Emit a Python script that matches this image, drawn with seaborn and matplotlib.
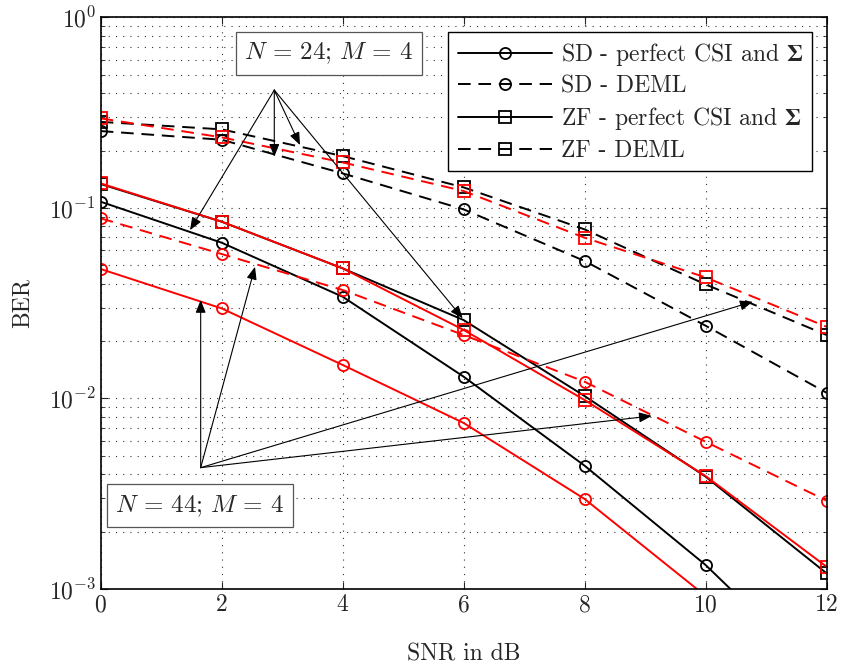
import numpy as np
import pandas as pd
import matplotlib
matplotlib.use("Agg")
import matplotlib.pyplot as plt
from matplotlib.lines import Line2D
import matplotlib.ticker as mticker
import seaborn as sns

# ---------------- data ----------------
snr = [0, 2, 4, 6, 8, 10, 12]

# N = 24, M = 4 (black)
sd_perfect_24 = [0.1078, 0.0657, 0.0342, 0.01302, 0.00444, 0.001338, 0.000326]
sd_deml_24    = [0.2532, 0.228, 0.1519, 0.0983, 0.0527, 0.0241, 0.01072]
zf_perfect_24 = [0.1335, 0.0847, 0.0482, 0.0258, 0.0103, 0.00389, 0.00121]
zf_deml_24    = [0.283, 0.2585, 0.1872, 0.1282, 0.0772, 0.0397, 0.02154]

# N = 44, M = 4 (red)
sd_perfect_44 = [0.0478, 0.0297, 0.0150, 0.00744, 0.00297, 0.00092, 0.00025]
sd_deml_44    = [0.0882, 0.0573, 0.0371, 0.02154, 0.01225, 0.00593, 0.00291]
zf_perfect_44 = [0.1345, 0.0847, 0.0482, 0.0229, 0.00982, 0.00392, 0.00131]
zf_deml_44    = [0.2952, 0.2347, 0.1734, 0.1227, 0.0698, 0.0432, 0.0238]

legend_labels = [r"SD - perfect CSI and $\mathbf{Σ}$",
                 "SD - DEML",
                 r"ZF - perfect CSI and $\mathbf{Σ}$",
                 "ZF - DEML"]
box24_text = r"$N\,=\,24;\,M\,=\,4$"
box44_text = r"$N\,=\,44;\,M\,=\,4$"

# ---------------- style ----------------
sns.set_style("ticks")
plt.rcParams["font.family"] = ["cmr10", "DejaVu Serif"]
plt.rcParams["mathtext.fontset"] = "cm"
plt.rcParams["axes.formatter.use_mathtext"] = True
plt.rcParams["axes.unicode_minus"] = True

FS = 17

fig = plt.figure(figsize=(8.42, 6.67), dpi=100)
ax = fig.add_axes([0.1196, 0.1169, 0.862, 0.857])

DASH = (0, (6.5, 4.0))
LW = 1.4
MS = 8
MEW = 1.3

series = [
    (sd_perfect_24, "k", "o", "-"),
    (sd_deml_24, "k", "o", DASH),
    (zf_perfect_24, "k", "s", "-"),
    (zf_deml_24, "k", "s", DASH),
    (sd_perfect_44, "red", "o", "-"),
    (sd_deml_44, "red", "o", DASH),
    (zf_perfect_44, "red", "s", "-"),
    (zf_deml_44, "red", "s", DASH),
]
for vals, col, mk, ls in series:
    df = pd.DataFrame({"SNR": snr, "BER": vals})
    sns.lineplot(data=df, x="SNR", y="BER", ax=ax, color=col, marker=mk,
                 linestyle=ls, linewidth=LW, markersize=MS,
                 markerfacecolor="none", markeredgecolor=col,
                 markeredgewidth=MEW, clip_on=True)

ax.set_yscale("log")
ax.set_xlim(0, 12)
ax.set_ylim(1e-3, 1)
ax.set_xticks([0, 2, 4, 6, 8, 10, 12])
ax.yaxis.set_major_locator(mticker.LogLocator(base=10, numticks=10))
ax.yaxis.set_minor_locator(mticker.LogLocator(base=10, subs=np.arange(2, 10), numticks=20))
ax.yaxis.set_minor_formatter(mticker.NullFormatter())

grid_kw = dict(color="#333333", linestyle=(0, (1, 5.5)), linewidth=0.8)
ax.grid(True, which="major", axis="both", **grid_kw)
ax.grid(True, which="minor", axis="y", **grid_kw)

ax.tick_params(which="both", direction="in", top=True, right=True, labelsize=FS)
ax.tick_params(which="major", length=5, width=0.8)
ax.tick_params(which="minor", length=3, width=0.6)
for s in ax.spines.values():
    s.set_linewidth(1.2)
    s.set_color("k")

ax.set_xlabel("SNR in dB", fontsize=FS, labelpad=20)
ax.set_ylabel("BER", fontsize=FS, labelpad=11)

# legend
handles = [
    Line2D([], [], color="k", lw=LW, ls="-", marker="o", ms=MS, mfc="none", mew=MEW),
    Line2D([], [], color="k", lw=LW, ls=DASH, marker="o", ms=MS, mfc="none", mew=MEW),
    Line2D([], [], color="k", lw=LW, ls="-", marker="s", ms=MS, mfc="none", mew=MEW),
    Line2D([], [], color="k", lw=LW, ls=DASH, marker="s", ms=MS, mfc="none", mew=MEW),
]
leg = ax.legend(handles, legend_labels, loc="upper right", fontsize=FS,
                frameon=True, fancybox=False, framealpha=1, edgecolor="k",
                handlelength=4.0, borderaxespad=0.6, labelspacing=0.32,
                handletextpad=0.35, borderpad=0.4)
leg.get_frame().set_linewidth(1.0)

# annotations
arrow_kw = dict(arrowstyle="-|>,head_length=0.55,head_width=0.22", color="k",
                lw=0.8, mutation_scale=14, shrinkA=0, shrinkB=0)
origin24 = (2.87, 0.4155)
targets24 = [(1.477, 0.0765), (2.87, 0.1856), (3.295, 0.2138), (5.985, 0.02634)]
for t in targets24:
    ax.annotate("", xy=t, xytext=origin24, arrowprops=arrow_kw)
origin44 = (1.653, 0.004335)
targets44 = [(1.653, 0.03287), (2.551, 0.04914), (9.111, 0.0081), (10.78, 0.0322)]
for t in targets44:
    ax.annotate("", xy=t, xytext=origin44, arrowprops=arrow_kw)

box_kw = dict(boxstyle="square,pad=0.35", fc="white", ec="#555555", lw=0.9)
ax.text(3.773, 0.6496, box24_text, fontsize=FS + 1, ha="center", va="center",
        bbox=box_kw, zorder=5)
ax.text(1.642, 0.002729, box44_text, fontsize=FS + 1, ha="center", va="center",
        bbox=box_kw, zorder=5)

fig.savefig("out.png", dpi=100)
